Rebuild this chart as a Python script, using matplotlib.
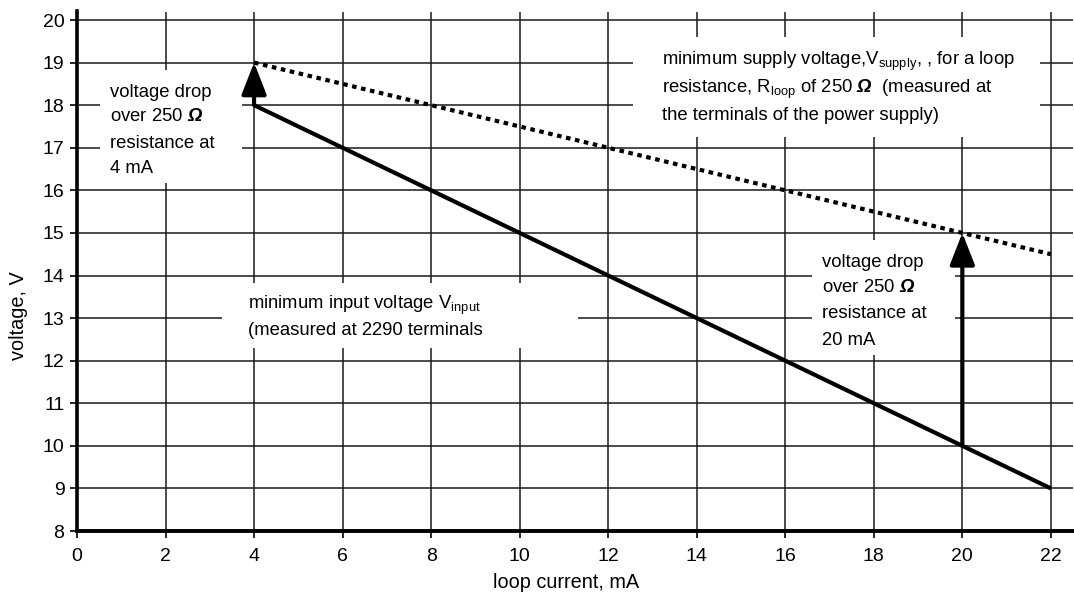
import matplotlib
matplotlib.use("Agg")
import matplotlib.pyplot as plt
from matplotlib.patches import Rectangle

plt.rcParams['font.family'] = ['Liberation Sans', 'DejaVu Sans']
plt.rcParams['mathtext.fontset'] = 'custom'
plt.rcParams['mathtext.rm'] = 'Liberation Sans'
plt.rcParams['mathtext.it'] = 'Liberation Sans:italic'
plt.rcParams['mathtext.bf'] = 'Liberation Sans:bold'
plt.rcParams['mathtext.bfit'] = 'Liberation Sans:bold:italic'

# data
current_input = [4, 22]
voltage_input = [18, 9]
current_supply = [4, 22]
voltage_supply = [19, 14.5]
arrow_x = [4, 20]
arrow_from = [18, 10]
arrow_to = [19, 15]
xticks = list(range(0, 23, 2))
yticks = list(range(8, 21))

OMEGA = '$\\mathbfit{\\Omega}$'
box1_lines = ['voltage drop', 'over 250 ' + OMEGA, 'resistance at', '4 mA']
box2_lines = ['minimum supply voltage,V$_{\\mathrm{supply}}$, , for a loop',
              'resistance, R$_{\\mathrm{loop}}$ of 250 ' + OMEGA + '  (measured at',
              'the terminals of the power supply)']
box3_lines = ['voltage drop', 'over 250 ' + OMEGA, 'resistance at', '20 mA']
box4_lines = ['minimum input voltage V$_{\\mathrm{input}}$',
              '(measured at 2290 terminals']

W, H = 1074, 594
fig = plt.figure(figsize=(W / 100, H / 100), dpi=100)
ax = fig.add_axes([77 / W, 63 / H, 996 / W, (531 - 11.5) / H])
ax.set_xlim(0, 22.5)
ax.set_ylim(8, 20.2)
ax.set_xticks(xticks)
ax.set_yticks(yticks)
ax.grid(True, color='#1a1a1a', lw=1.1, zorder=0)
ax.set_axisbelow(True)
for s in ['top', 'right']:
    ax.spines[s].set_visible(False)
ax.spines['left'].set_linewidth(2.6)
ax.spines['bottom'].set_linewidth(2.8)
ax.tick_params(axis='both', direction='out', length=5, width=1.2, labelsize=14)
ax.tick_params(axis='x', pad=7)
ax.tick_params(axis='y', pad=4)

fig.text(566 / W, 1 - 583 / H, 'loop current, mA', fontsize=14.3, ha='center', va='center')
fig.text(19 / W, 1 - 316 / H, 'voltage, V', fontsize=14.3, ha='center', va='center', rotation=90)

# white boxes behind the annotations
boxes = [(0.52, 16.17, 3.21, 2.66), (12.56, 17.25, 9.19, 2.35),
         (16.6, 12.14, 3.23, 2.7), (3.28, 12.3, 8.04, 1.53)]
for (bx, by, bw, bh) in boxes:
    ax.add_patch(Rectangle((bx, by), bw, bh, facecolor='white', edgecolor='none', zorder=1))

ax.plot(current_input, voltage_input, color='black', lw=3, zorder=3, solid_capstyle='butt')
ax.plot(current_supply, voltage_supply, color='black', lw=3, ls=(0, (1.1, 1.1)), zorder=3)

for xv, y0, y1 in zip(arrow_x, arrow_from, arrow_to):
    ax.annotate('', xy=(xv, y1), xytext=(xv, y0),
                arrowprops=dict(arrowstyle='-|>,head_length=0.97,head_width=0.38', color='black',
                                lw=3, shrinkA=0, shrinkB=0, mutation_scale=20), zorder=4)

fs = 13.3
def put_lines(x, baselines, lines):
    for yb, t in zip(baselines, lines):
        ax.text(x, yb, t, fontsize=fs, va='baseline', ha='left', zorder=2)

put_lines(0.745, [18.19, 17.63, 16.99, 16.41], box1_lines)
put_lines(13.21, [18.94, 18.29, 17.65], box2_lines)
put_lines(16.83, [14.20, 13.61, 13.00, 12.37], box3_lines)
put_lines(3.86, [13.21, 12.60], box4_lines)

fig.savefig('out.png', dpi=100)
